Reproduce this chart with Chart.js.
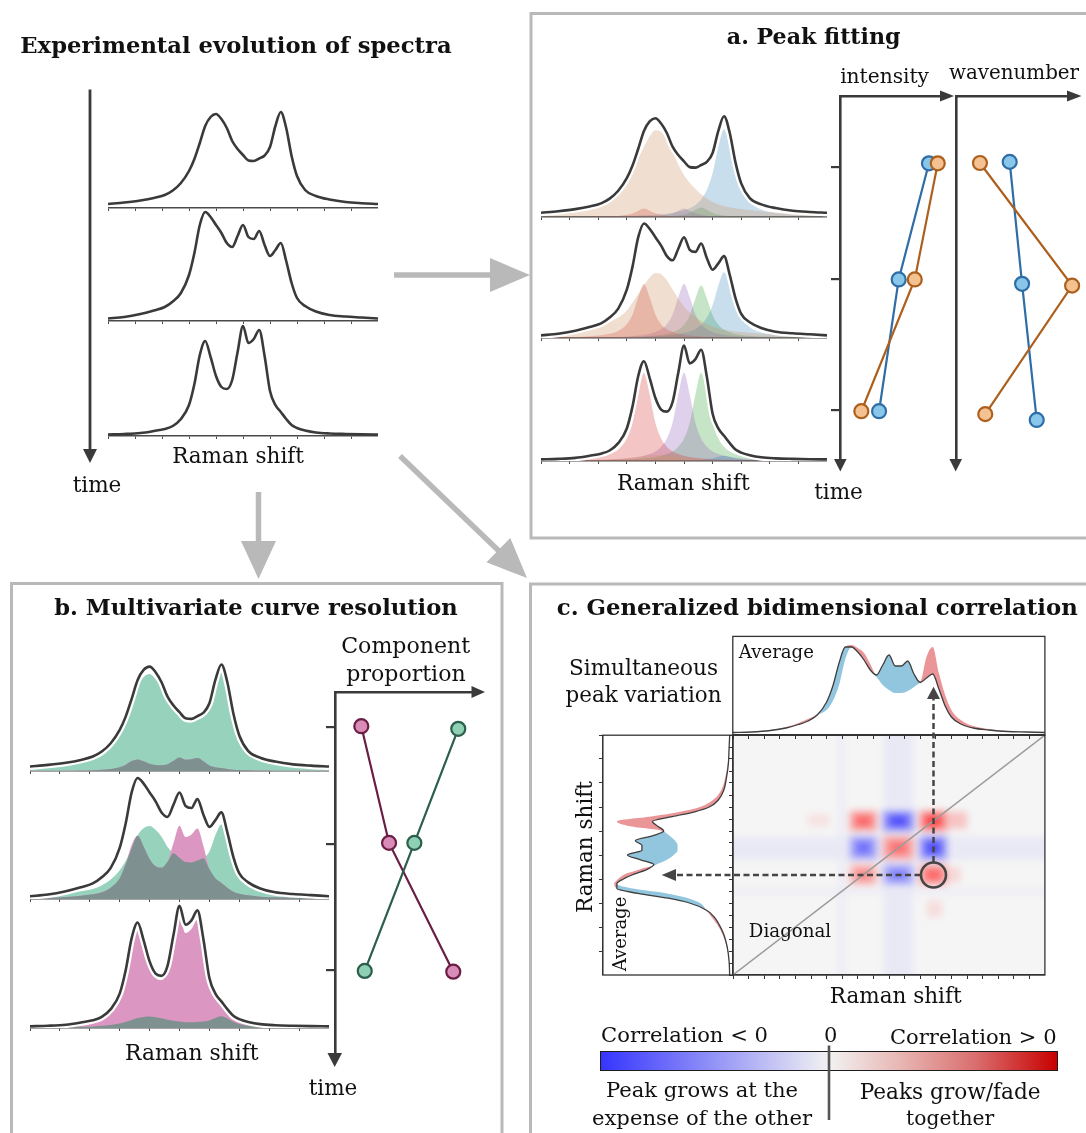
<!DOCTYPE html>
<html lang="en">
<head>
<meta charset="UTF-8">
<meta name="viewport" content="width=device-width, initial-scale=1.0">
<title>Spectral evolution: peak fitting, MCR and 2D correlation</title>
<script src="https://cdn.jsdelivr.net/npm/chart.js"></script>
<style>
  html, body { margin: 0; padding: 0; background: #fff; }
  #page { position: relative; width: 1086px; height: 1133px; overflow: hidden;
          font-family: "DejaVu Serif", "Liberation Serif", serif; color: #111; }
  #page canvas { display: block; }
  .lbl { position: absolute; white-space: nowrap; line-height: 1; }
  #colorbar { position: absolute; left: 600px; top: 1051px; width: 458px; height: 20px; box-sizing: border-box;
              border: 1.5px solid #1c1c1c;
              background: linear-gradient(to right, #3535ff 0%, #9494f7 25%, #f2f2f2 50%, #e8b9b6 65%, #da6f6f 82%, #c80000 100%); }
  #heatClip { position: absolute; left: 732.8px; top: 735.2px; width: 312.1px; height: 239.8px; overflow: hidden; }
  svg { position: absolute; left: 0; top: 0; }
</style>
</head>
<body>
<div id="page">
  <div id="heatClip"></div>
  <div id="colorbar"></div>
</div>
<script>
// ---------- values ----------
// Raman shift grid (0 = left end of the axis, 100 = right end)
const ramanShift = [0, 6, 12, 17, 21, 24, 27, 30, 32, 34, 36, 38, 40, 42, 44, 46, 48, 50, 52, 54, 56, 58, 60, 62, 64, 66, 68, 70, 73, 77, 82, 88, 94, 100];

// measured spectra at the three times
const spectrumT1 = [4, 5.5, 7.5, 10, 13, 17.5, 25, 37, 49, 65, 82, 91, 94, 89, 80, 67, 59, 53, 47.5, 47, 49.5, 52.5, 61, 82, 96, 80, 52, 32, 18, 12, 8.5, 6, 4.8, 4];
const spectrumT2 = [2.5, 4, 7, 10.5, 14, 19.5, 28, 46, 68, 96, 109, 104, 96, 88, 78, 74, 85, 96, 84, 82, 90, 76, 65, 71, 78, 60, 38, 23, 15, 9.5, 6, 4.5, 3.5, 2.5];
const spectrumT3 = [1.5, 2, 3, 5, 7, 10, 17, 31, 52, 81, 95, 79, 60, 49, 47, 56, 84, 110, 93, 97, 106, 80, 45, 31, 24, 17, 11, 8, 5.5, 3.5, 2.5, 2, 1.7, 1.5];

// fitted band shapes (peak height 1)
const bandBroad  = [0.05, 0.07, 0.1, 0.14, 0.18, 0.24, 0.31, 0.42, 0.54, 0.67, 0.8, 0.92, 0.99, 0.97, 0.88, 0.74, 0.6, 0.48, 0.39, 0.32, 0.26, 0.21, 0.17, 0.145, 0.125, 0.11, 0.1, 0.09, 0.08, 0.065, 0.05, 0.04, 0.03, 0.025];
const bandBlue   = [0.0039, 0.0047, 0.0059, 0.0072, 0.0086, 0.0099, 0.0116, 0.0137, 0.0154, 0.0175, 0.02, 0.023, 0.027, 0.032, 0.038, 0.047, 0.059, 0.075, 0.1, 0.138, 0.2, 0.31, 0.5, 0.8, 1, 0.8, 0.5, 0.31, 0.165, 0.086, 0.047, 0.027, 0.0175, 0.0122];
const bandRed    = [0.0094, 0.0134, 0.0208, 0.0328, 0.0517, 0.078, 0.131, 0.254, 0.434, 0.754, 1, 0.754, 0.434, 0.254, 0.161, 0.109, 0.078, 0.059, 0.046, 0.0365, 0.0297, 0.0247, 0.0208, 0.0178, 0.0154, 0.0134, 0.0118, 0.0105, 0.0089, 0.0072, 0.0058, 0.0045, 0.0036, 0.003];
const bandPurple = [0.0049, 0.0063, 0.0084, 0.0111, 0.0144, 0.0178, 0.0226, 0.0297, 0.0365, 0.046, 0.059, 0.078, 0.109, 0.161, 0.254, 0.434, 0.754, 1, 0.754, 0.434, 0.254, 0.161, 0.109, 0.078, 0.059, 0.046, 0.0365, 0.0297, 0.0226, 0.0165, 0.0118, 0.0084, 0.0063, 0.0049];
const bandGreen  = [0.0039, 0.0049, 0.0063, 0.008, 0.0099, 0.0118, 0.0144, 0.0178, 0.0208, 0.0247, 0.0297, 0.0365, 0.046, 0.059, 0.078, 0.109, 0.161, 0.254, 0.434, 0.754, 1, 0.754, 0.434, 0.254, 0.161, 0.109, 0.078, 0.059, 0.0407, 0.027, 0.0178, 0.0118, 0.0084, 0.0063];

// band heights at the three times
const ampBroad  = [83.5, 62.6, 6];
const ampBlue   = [83.5, 62.6, 5];
const ampRed    = [8, 51.4, 84];
const ampPurple = [8, 51.4, 84];
const ampGreen  = [9, 50, 84];

// MCR: share of the two pure components at the three times
const mcrGreenShare = [0.93, 0.70, 0.11];
const mcrPinkShare  = [0.11, 0.60, 0.92];

// peak fitting trends (time axis 0 = top, 10 = arrow tip)
const fitTimeTicks = [1.95, 5.04, 8.64];
const intensityOrange = [93.1, 71.2, 20.3];
const intensityBlue = [84.7, 55.9, 37.2];
const intensityTime = [1.85, 5.04, 8.66];
const wavenumberOrange = [20.3, 98.4, 24.8];
const wavenumberOrangeTime = [1.84, 5.21, 8.74];
const wavenumberBlue = [45.5, 56.0, 68.4];
const wavenumberBlueTime = [1.81, 5.16, 8.90];

// MCR trends
const mcrTimeTicks = [0.96, 4.12, 7.55];
const proportionPink = [18.4, 37.8, 82.7];
const proportionPinkTime = [0.93, 4.10, 7.60];
const proportionGreen = [86.2, 55.5, 20.8];
const proportionGreenTime = [1.00, 4.10, 7.58];

// 2D correlation: average spectrum and the spectrum of simultaneous variation
const averageSpectrum = [2.5, 3, 4.5, 7, 10.5, 14, 20, 33, 49, 72, 88, 88, 83, 75, 65, 60, 70, 80, 69, 69, 74, 61, 52.5, 57, 61, 46, 29, 18, 11, 7, 5, 3.5, 3, 2.5];
const variationEdge   = [2.5, 3, 5, 8, 12, 16, 21, 25, 34, 50, 76, 90, 87, 82, 71, 58, 50, 45, 42, 42, 44, 48, 54, 78, 88, 62, 40, 25, 15, 9, 6, 4, 3, 2.5];

// 2D correlation map: three varying bands and their correlation
const corrBandCentre = [41.8, 53.0, 64.2];
const corrBandHalf = [4.2, 4.9, 4.2];
const corrMatrix = [
  [0.45, -0.50, 0.60],
  [-0.55, 0.55, -0.70],
  [0.60, -0.70, 0.75]
];
// faint features: [x0, x1, y0, y1, correlation]
const corrFaint = [
  [48.2, 57.8, -10, 110, -0.05],
  [-10, 110, 47.9, 57.6, -0.05],
  [34.0, 35.8, -10, 110, -0.05],
  [-10, 110, 33.8, 35.6, -0.05],
  [8, 34, 49, 56.5, -0.08],
  [68, 88, 49, 56.5, -0.09],
  [49, 57, 8, 34, -0.07],
  [49, 57, 68, 88, -0.09],
  [24, 31, 62, 67, 0.08],
  [62, 67, 24, 31, 0.1],
  [67.5, 75, 61, 68, 0.2],
  [67.5, 73, 38.5, 45, 0.12],
  [35.0, 37.0, 49, 56.5, 0.14],
  [49, 57, 33.5, 36.0, 0.16]
];

// ---------- drawing ----------
const page = document.getElementById('page');

const common = () => ({
  responsive: false, maintainAspectRatio: false, animation: false, events: [], devicePixelRatio: 1,
  plugins: { legend: { display: false }, tooltip: { enabled: false } }
});

// place a chart so that its chart area lands on box (l, t, w, h)
function mount(box, makeConfig, parent) {
  parent = parent || page;
  const wrap = document.createElement('div');
  wrap.style.position = 'absolute';
  parent.appendChild(wrap);
  let cv = document.createElement('canvas');
  cv.width = Math.round(box.w) + 80;
  cv.height = Math.round(box.h) + 80;
  wrap.appendChild(cv);
  let chart = new Chart(cv, makeConfig());
  let a = chart.chartArea;
  const extraW = cv.width - (a.right - a.left);
  const extraH = cv.height - (a.bottom - a.top);
  chart.destroy();
  wrap.removeChild(cv);
  cv = document.createElement('canvas');
  cv.width = Math.round(box.w + extraW);
  cv.height = Math.round(box.h + extraH);
  wrap.appendChild(cv);
  chart = new Chart(cv, makeConfig());
  a = chart.chartArea;
  wrap.style.left = (box.l - a.left) + 'px';
  wrap.style.top = (box.t - a.top) + 'px';
  return wrap;
}

const pts = values => values.map((v, i) => ({ x: ramanShift[i], y: v }));
const scaled = (shape, k) => shape.map(v => v * k);
const clear = 'rgba(0,0,0,0)';

function spectrum(box, scale, line, fills, halo) {
  return mount(box, () => {
    const datasets = [{ data: pts(line), borderColor: '#3a3a3a', borderWidth: 2.6, fill: false, order: 0 }];
    if (halo) datasets.push({ data: pts(line), borderColor: '#ffffff', borderWidth: 7, fill: false, order: 1 });
    fills.forEach((f, k) => datasets.push({
      data: pts(f.values), backgroundColor: f.colour, borderColor: clear, borderWidth: 0, fill: 'origin', order: 2 + k
    }));
    return {
      type: 'line',
      data: { datasets },
      options: Object.assign(common(), {
        elements: { point: { radius: 0 }, line: { cubicInterpolationMode: 'monotone' } },
        scales: {
          x: { type: 'linear', min: 0, max: 100,
               border: { display: true, color: '#4a4a4a', width: 1.5 },
               grid: { drawOnChartArea: false, drawTicks: true, tickLength: 3, color: '#4a4a4a' },
               ticks: { display: false, stepSize: 10 } },
          y: { type: 'linear', display: false, min: 0, max: box.h / scale }
        }
      })
    };
  });
}

function trend(box, series, ticks) {
  return mount(box, () => ({
    type: 'scatter',
    data: { datasets: series.map(s => ({
      data: s.values.map((v, i) => ({ x: v, y: s.time[i] })),
      showLine: true, borderColor: s.line, borderWidth: 2.2, clip: false,
      pointRadius: 7, pointBackgroundColor: s.fill, pointBorderColor: s.line, pointBorderWidth: 2.2
    })) },
    options: Object.assign(common(), {
      layout: { padding: 14 },
      scales: {
        x: { type: 'linear', position: 'top', min: 0, max: 100,
             border: { display: true, color: '#3a3a3a', width: 2.6 },
             grid: { drawOnChartArea: false, drawTicks: false }, ticks: { display: false } },
        y: { type: 'linear', position: 'left', reverse: true, min: 0, max: 10,
             border: { display: true, color: '#3a3a3a', width: 2.6 },
             grid: { drawOnChartArea: false, drawTicks: !!ticks, tickLength: 9, color: '#3a3a3a', lineWidth: 2.2 },
             ticks: { display: false },
             afterBuildTicks: sc => { sc.ticks = (ticks || []).map(v => ({ value: v })); } }
      }
    })
  }));
}

// --- 2D correlation map (blurred, sits under everything) ---
function corrColour(v) {
  const a = Math.min(1, Math.abs(v));
  const fade = Math.round(245 * (1 - a));
  const full = Math.round(245 + 10 * a);
  return v >= 0 ? `rgb(${full},${fade},${fade})` : `rgb(${fade},${fade},${full})`;
}
const heatWrap = mount({ l: -8 * 3.121, t: -8 * 2.398, w: 312.1 * 1.16, h: 239.8 * 1.16 }, () => {
  const ds = [];
  const rect = (x0, x1, y0, y1, colour, order) => ds.push({
    data: [{ x: x0, y: y1 }, { x: x1, y: y1 }], fill: { value: y0 },
    backgroundColor: colour, borderColor: clear, borderWidth: 0, order
  });
  rect(-10, 110, -10, 110, '#f5f5f5', 100);
  corrFaint.forEach(([x0, x1, y0, y1, v]) => rect(x0, x1, y0, y1, corrColour(v), 50));
  corrMatrix.forEach((row, i) => row.forEach((v, j) => {
    const cx = corrBandCentre[j], cy = corrBandCentre[i];
    const hx = corrBandHalf[j], hy = corrBandHalf[i];
    rect(cx - hx * 1.1, cx + hx * 1.1, cy - hy * 1.05, cy + hy * 1.05, corrColour(v * 0.4), 30);
    rect(cx - hx * 0.8, cx + hx * 0.8, cy - hy * 0.75, cy + hy * 0.75, corrColour(v * 0.75), 20);
    rect(cx - hx * 0.45, cx + hx * 0.45, cy - hy * 0.4, cy + hy * 0.4, corrColour(v), 10);
  }));
  return {
    type: 'line', data: { datasets: ds },
    options: Object.assign(common(), {
      elements: { point: { radius: 0 } },
      scales: { x: { type: 'linear', display: false, min: -8, max: 108 },
                y: { type: 'linear', display: false, min: -8, max: 108 } }
    })
  };
}, document.getElementById('heatClip'));
heatWrap.style.filter = 'blur(3.5px)';

// --- experimental spectra ---
const expRows = [[spectrumT1, 207.6], [spectrumT2, 321.4], [spectrumT3, 436.1]];
expRows.forEach(([s, base]) => spectrum({ l: 108.2, t: base - 125, w: 269.8, h: 125 }, 1.0, s, [], false));

// --- a. peak fitting ---
const fitBase = [217, 338, 461];
[spectrumT1, spectrumT2, spectrumT3].forEach((s, k) => spectrum({ l: 540.6, t: fitBase[k] - 125, w: 286.4, h: 125 }, 1.05, s, [
  { values: scaled(bandBroad, ampBroad[k]), colour: 'rgba(205,150,100,0.3)' },
  { values: scaled(bandBlue, ampBlue[k]), colour: 'rgba(31,119,180,0.24)' },
  { values: scaled(bandRed, ampRed[k]), colour: 'rgba(214,39,40,0.27)' },
  { values: scaled(bandPurple, ampPurple[k]), colour: 'rgba(148,103,189,0.3)' },
  { values: scaled(bandGreen, ampGreen[k]), colour: 'rgba(44,160,44,0.27)' }
], true));

trend({ l: 840.3, t: 96, w: 104.7, h: 364 }, [
  { values: intensityOrange, time: intensityTime, line: '#ad5f1d', fill: '#f4c290' },
  { values: intensityBlue, time: intensityTime, line: '#2f6da6', fill: '#88c6ea' }
], fitTimeTicks);
trend({ l: 955.7, t: 96, w: 118, h: 364 }, [
  { values: wavenumberOrange, time: wavenumberOrangeTime, line: '#ad5f1d', fill: '#f4c290' },
  { values: wavenumberBlue, time: wavenumberBlueTime, line: '#2f6da6', fill: '#88c6ea' }
], null);

// --- b. multivariate curve resolution ---
const mcrBase = [770.5, 899, 1028];
[spectrumT1, spectrumT2, spectrumT3].forEach((s, k) => {
  const green = scaled(spectrumT1, mcrGreenShare[k]);
  const pink = scaled(spectrumT3, mcrPinkShare[k]);
  const both = green.map((g, i) => Math.min(g, pink[i]));
  spectrum({ l: 29.7, t: mcrBase[k] - 135, w: 298.9, h: 135 }, 1.11, s, [
    { values: both, colour: '#7e9190' },
    { values: pink, colour: '#db97c1' },
    { values: green, colour: '#97d2bd' }
  ], true);
});
trend({ l: 334.7, t: 692, w: 143, h: 368 }, [
  { values: proportionGreen, time: proportionGreenTime, line: '#2c5e4c', fill: '#8fd0b5' },
  { values: proportionPink, time: proportionPinkTime, line: '#6a1d45', fill: '#d98cb8' }
], mcrTimeTicks);

// --- c. correlation: top and side spectra, map axes ---
const upper = averageSpectrum.map((v, i) => Math.max(v, variationEdge[i]));
const lower = averageSpectrum.map((v, i) => Math.min(v, variationEdge[i]));
const redFill = '#ea9597', blueFill = '#92c6df';

mount({ l: 732.8, t: 636.4, w: 312.1, h: 98.8 }, () => ({
  type: 'line',
  data: { datasets: [
    { data: pts(averageSpectrum), borderColor: '#3f3f3f', borderWidth: 1.3, fill: false, order: 0 },
    { data: pts(upper), borderColor: clear, borderWidth: 0, backgroundColor: redFill, fill: 0, order: 1 },
    { data: pts(lower), borderColor: clear, borderWidth: 0, backgroundColor: blueFill, fill: 0, order: 2 }
  ] },
  options: Object.assign(common(), {
    elements: { point: { radius: 0 }, line: { cubicInterpolationMode: 'monotone' } },
    scales: {
      x: { type: 'linear', min: 0, max: 100,
           border: { display: true, color: '#333', width: 1.3 },
           grid: { drawOnChartArea: false, tickLength: 4, color: '#333' },
           ticks: { display: false, stepSize: 5 } },
      y: { type: 'linear', display: false, min: 0, max: 99 }
    }
  })
}));

const sidePts = values => values.map((v, i) => ({ x: v, y: ramanShift[i] }));
mount({ l: 602.7, t: 735.2, w: 130.1, h: 239.8 }, () => ({
  type: 'line',
  data: { datasets: [
    { data: sidePts(averageSpectrum), borderColor: '#3f3f3f', borderWidth: 1.3, fill: false, order: 0 },
    { data: sidePts(upper), borderColor: clear, borderWidth: 0, backgroundColor: redFill, fill: 0, order: 1 },
    { data: sidePts(lower), borderColor: clear, borderWidth: 0, backgroundColor: blueFill, fill: 0, order: 2 }
  ] },
  options: Object.assign(common(), {
    indexAxis: 'y',
    elements: { point: { radius: 0 }, line: { cubicInterpolationMode: 'monotone' } },
    scales: {
      x: { type: 'linear', display: false, reverse: true, min: 0, max: 98.5 },
      y: { type: 'linear', min: 0, max: 100, position: 'left',
           border: { display: true, color: '#333', width: 1.3 },
           grid: { drawOnChartArea: false, tickLength: 4, color: '#333' },
           ticks: { display: false, stepSize: 10 } }
    }
  })
}));

mount({ l: 732.8, t: 735.2, w: 312.1, h: 239.8 }, () => ({
  type: 'line',
  data: { datasets: [{ data: [{ x: 0, y: 0 }, { x: 100, y: 100 }], borderColor: '#9b9b9b', borderWidth: 1.4, fill: false, pointRadius: 0 }] },
  options: Object.assign(common(), {
    scales: {
      x: { type: 'linear', min: 0, max: 100,
           border: { display: true, color: '#333', width: 1.3 },
           grid: { drawOnChartArea: false, tickLength: 4, color: '#333' },
           ticks: { display: false, stepSize: 5 } },
      y: { type: 'linear', min: 0, max: 100,
           border: { display: true, color: '#333', width: 1.3 },
           grid: { drawOnChartArea: false, tickLength: 4, color: '#333' },
           ticks: { display: false, stepSize: 5 } }
    }
  })
}));

// ---------- frames, arrows and pointers ----------
page.insertAdjacentHTML('beforeend', `
<svg width="1086" height="1133" viewBox="0 0 1086 1133">
  <g fill="none" stroke="#b9b9b9" stroke-width="3">
    <rect x="531" y="13.5" width="600" height="524.5"/>
    <rect x="11.5" y="583.5" width="490.5" height="600"/>
    <rect x="530.5" y="584" width="600" height="600"/>
  </g>
  <g fill="#b9b9b9" stroke="#b9b9b9" stroke-width="5.5">
    <line x1="394" y1="275" x2="494" y2="275"/>
    <polygon points="490,258 530,275 490,292" stroke="none"/>
    <line x1="258.5" y1="492" x2="258.5" y2="545"/>
    <polygon points="241,541 276,541 258.5,579" stroke="none"/>
    <line x1="400" y1="456" x2="500" y2="552"/>
    <polygon points="486.5,562.3 527,578 510.3,537.9" stroke="none"/>
  </g>
  <g fill="#3a3a3a">
    <line x1="90" y1="89.5" x2="90" y2="452" stroke="#3a3a3a" stroke-width="2.8"/>
    <polygon points="83,449 97,449 90,463"/>
    <polygon points="940,90.5 954,96 940,101.5"/>
    <polygon points="1067,90.5 1081.5,96 1067,101.5"/>
    <polygon points="834,459 846.6,459 840.3,471.5"/>
    <polygon points="949.4,459 962,459 955.7,471.5"/>
    <polygon points="471.5,686 485,692 471.5,698"/>
    <polygon points="327.5,1053 342,1053 334.7,1067"/>
  </g>
  <g fill="none" stroke="#333" stroke-width="1.3">
    <rect x="732.8" y="636.4" width="312.1" height="98.8"/>
    <rect x="732.8" y="735.2" width="312.1" height="239.8"/>
    <rect x="602.7" y="735.2" width="130.1" height="239.8"/>
  </g>
  <g stroke="#454545" stroke-width="2.5" fill="none" stroke-dasharray="6 3.5">
    <line x1="920.5" y1="875" x2="676" y2="875"/>
    <line x1="933.5" y1="862" x2="933.5" y2="699"/>
  </g>
  <circle cx="933.5" cy="875" r="12.5" fill="none" stroke="#454545" stroke-width="2.6"/>
  <polygon points="661.7,875 676,869 676,881" fill="#454545"/>
  <polygon points="933.5,686.7 927,699 940,699" fill="#454545"/>
  <line x1="829" y1="1045.5" x2="829" y2="1120" stroke="#555" stroke-width="2.6"/>
</svg>`);

// ---------- text ----------
const labels = [
  // text, centre x, centre y, width, bold, rotation
  ['Experimental evolution of spectra', 236, 45, 432, true, 0],
  ['a. Peak fitting', 813.7, 36, 174, true, 0],
  ['intensity', 884.6, 76, 89, false, 0],
  ['wavenumber', 1014, 73, 130, false, 0],
  ['Raman shift', 238, 456, 132, false, 0],
  ['time', 97, 485, 49, false, 0],
  ['Raman shift', 683.4, 483, 133, false, 0],
  ['time', 838.5, 492, 49, false, 0],
  ['b. Multivariate curve resolution', 256, 607, 404, true, 0],
  ['Component', 405.7, 645, 128.5, false, 0],
  ['proportion', 406, 673.5, 119.4, false, 0],
  ['Raman shift', 191.8, 1053, 133.6, false, 0],
  ['time', 333, 1088, 49, false, 0],
  ['c. Generalized bidimensional correlation', 817.3, 607, 521, true, 0],
  ['Simultaneous', 643.5, 668, 149, false, 0],
  ['peak variation', 643.5, 695, 156, false, 0],
  ['Average', 776.4, 652, 75, false, 0],
  ['Average', 620.4, 934, 74.5, false, -90],
  ['Raman shift', 585, 847, 132, false, -90],
  ['Diagonal', 790, 931, 82, false, 0],
  ['Raman shift', 895.7, 996, 132, false, 0],
  ['Correlation < 0', 684.5, 1035, 167, false, 0],
  ['0', 830.7, 1035, 0, false, 0],
  ['Correlation > 0', 973.3, 1037, 166.7, false, 0],
  ['Peak grows at the', 702, 1090, 192, false, 0],
  ['expense of the other', 702, 1118, 220, false, 0],
  ['Peaks grow/fade', 950.2, 1092, 181, false, 0],
  ['together', 950.2, 1118, 88.5, false, 0]
];
labels.forEach(([text, x, y, w, bold, rot]) => {
  const d = document.createElement('div');
  d.className = 'lbl';
  d.textContent = text;
  d.style.fontWeight = bold ? 'bold' : 'normal';
  d.style.fontSize = '22px';
  page.appendChild(d);
  if (w > 0) d.style.fontSize = (22 * w / d.offsetWidth).toFixed(2) + 'px';
  else d.style.fontSize = '21px';
  d.style.left = x + 'px';
  d.style.top = y + 'px';
  d.style.transform = 'translate(-50%, -50%)' + (rot ? ` rotate(${rot}deg)` : '');
});
</script>
</body>
</html>
